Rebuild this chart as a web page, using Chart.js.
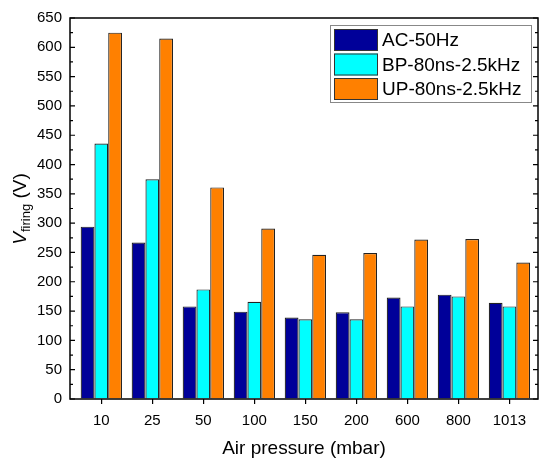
<!DOCTYPE html>
<html>
<head>
<meta charset="utf-8">
<script src="https://cdn.jsdelivr.net/npm/chart.js@4/dist/chart.umd.min.js"></script>
<style>
  html, body { margin: 0; padding: 0; background: #fff; }
</style>
</head>
<body>
<canvas id="firingChart" width="539" height="460"></canvas>
<script>
const pressures = ['10', '25', '50', '100', '150', '200', '600', '800', '1013'];
const acValues = [294, 267, 158, 149, 139, 148, 173, 178, 164];
const bpValues = [436, 375, 187, 166, 136, 136, 158, 175, 158];
const upValues = [625, 615, 361, 291, 246, 249, 272, 273, 233];
const yTicks = [0, 50, 100, 150, 200, 250, 300, 350, 400, 450, 500, 550, 600, 650];

const fontFamily = "'Liberation Sans', Arial, sans-serif";
Chart.defaults.font.family = fontFamily;
Chart.defaults.color = '#000';

function toPoints(values) {
  return values.map((v, i) => ({ x: i, y: v }));
}

// frame, inward y ticks, y title with subscript, boxed legend
const framePlugin = {
  id: 'frame',
  afterDraw(chart) {
    const { ctx, chartArea: a, scales } = chart;
    ctx.save();
    ctx.strokeStyle = '#000';
    ctx.lineWidth = 1.5;
    ctx.strokeRect(a.left, a.top, a.right - a.left, a.bottom - a.top);

    ctx.lineWidth = 1.2;
    for (let v = 0; v <= 650; v += 25) {
      const y = scales.y.getPixelForValue(v);
      const len = v % 50 === 0 ? 5 : 3;
      ctx.beginPath();
      ctx.moveTo(a.left, y); ctx.lineTo(a.left + len, y);
      ctx.moveTo(a.right, y); ctx.lineTo(a.right - len, y);
      ctx.stroke();
    }

    // y title
    ctx.fillStyle = '#000';
    ctx.translate(19, 209);
    ctx.rotate(-Math.PI / 2);
    ctx.textBaseline = 'alphabetic';
    const big = '19px ' + fontFamily, bigIt = 'italic 19px ' + fontFamily, small = '13px ' + fontFamily;
    ctx.font = bigIt; const wV = ctx.measureText('V').width;
    ctx.font = small; const wS = ctx.measureText('firing').width;
    ctx.font = big; const wU = ctx.measureText(' (V)').width;
    let x = -(wV + wS + wU) / 2;
    ctx.font = bigIt; ctx.fillText('V', x, 7); x += wV;
    ctx.font = small; ctx.fillText('firing', x, 11); x += wS;
    ctx.font = big; ctx.fillText(' (V)', x, 7);
    ctx.setTransform(1, 0, 0, 1, 0, 0);

    // legend
    const lx = 330, ly = 25, lw = 201, lh = 77;
    ctx.fillStyle = '#fff';
    ctx.fillRect(lx, ly, lw, lh);
    ctx.strokeStyle = '#888';
    ctx.lineWidth = 1;
    ctx.strokeRect(lx + 0.5, ly + 0.5, lw, lh);
    ctx.font = '19px ' + fontFamily;
    ctx.textBaseline = 'middle';
    chart.data.datasets.forEach((ds, i) => {
      const ry = ly + 4 + i * 24.5;
      ctx.fillStyle = ds.backgroundColor;
      ctx.fillRect(lx + 4, ry, 44, 22);
      ctx.strokeStyle = '#333';
      ctx.strokeRect(lx + 4.5, ry + 0.5, 43, 21);
      ctx.fillStyle = '#000';
      ctx.fillText(ds.label, lx + 52, ry + 12);
    });
    ctx.restore();
  }
};

new Chart(document.getElementById('firingChart'), {
  type: 'bar',
  data: {
    datasets: [{
      label: 'AC-50Hz',
      data: toPoints(acValues),
      backgroundColor: '#000099',
      borderColor: '#222',
      borderWidth: 1.2
    }, {
      label: 'BP-80ns-2.5kHz',
      data: toPoints(bpValues),
      backgroundColor: '#00ffff',
      borderColor: '#222',
      borderWidth: 1.2
    }, {
      label: 'UP-80ns-2.5kHz',
      data: toPoints(upValues),
      backgroundColor: '#ff8000',
      borderColor: '#222',
      borderWidth: 1.2
    }]
  },
  options: {
    responsive: false,
    animation: false,
    devicePixelRatio: 1,
    barPercentage: 1,
    categoryPercentage: 0.81,
    layout: { padding: { top: 18, right: 1, left: 0, bottom: 0 } },
    plugins: {
      legend: { display: false },
      tooltip: { enabled: false }
    },
    scales: {
      x: {
        type: 'linear',
        min: -0.614,
        max: 8.56,
        offset: false,
        afterBuildTicks: (scale) => { scale.ticks = pressures.map((p, i) => ({ value: i })); },
        afterFit: (scale) => { scale.height = 61; },
        ticks: {
          font: { size: 15 },
          padding: 8,
          maxRotation: 0,
          callback: (v) => pressures[v]
        },
        grid: { offset: false, drawOnChartArea: false, tickLength: 5, color: '#000', lineWidth: 1.2 },
        border: { display: false },
        title: {
          display: true,
          text: 'Air pressure (mbar)',
          font: { size: 19 },
          padding: { top: 4, bottom: 0 }
        }
      },
      y: {
        min: 0,
        max: 650,
        afterBuildTicks: (scale) => { scale.ticks = yTicks.map(v => ({ value: v })); },
        afterFit: (scale) => { scale.width = 70; },
        ticks: { font: { size: 15 }, padding: 8 },
        grid: { drawOnChartArea: false, drawTicks: false },
        border: { display: false }
      }
    }
  },
  plugins: [framePlugin]
});
</script>
</body>
</html>
